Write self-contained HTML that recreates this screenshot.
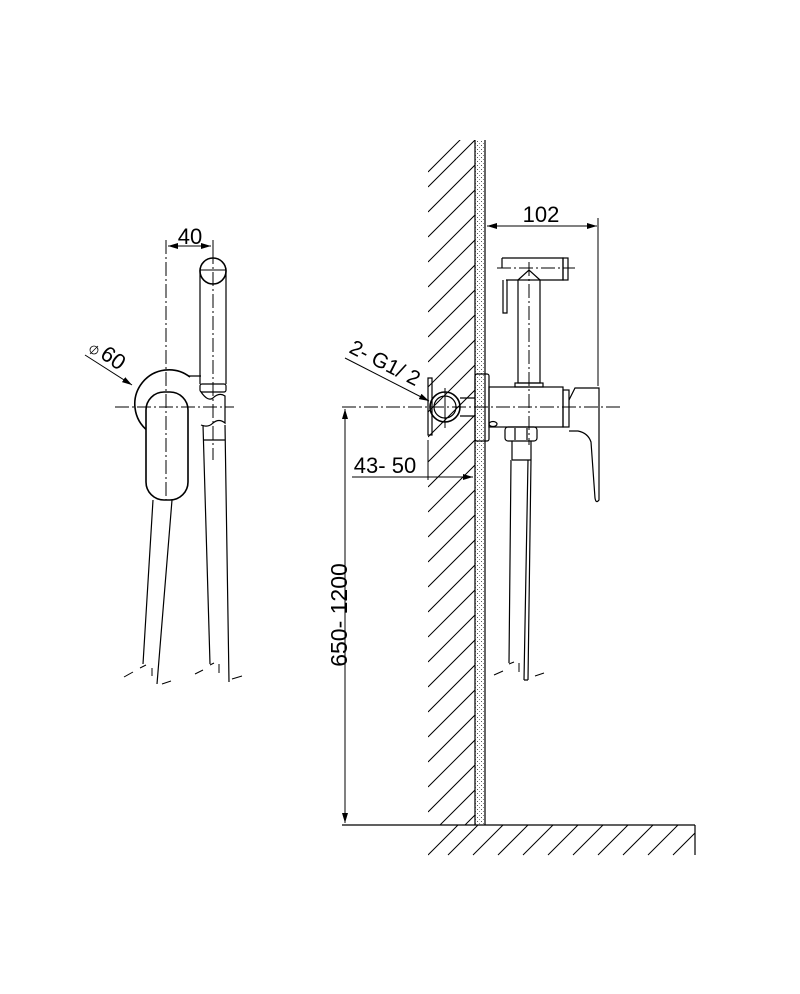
<!DOCTYPE html>
<html><head><meta charset="utf-8"><style>body{margin:0;background:#fff}svg{display:block}</style></head><body>
<svg width="800" height="994" viewBox="0 0 800 994" xmlns="http://www.w3.org/2000/svg" font-family="Liberation Sans, sans-serif">
<defs>
<marker id="a" viewBox="0 0 10 6" refX="10" refY="3" markerWidth="10" markerHeight="6" orient="auto-start-reverse" markerUnits="userSpaceOnUse"><path d="M0,0L10,3L0,6z" fill="#000"/></marker>
<pattern id="dots" width="4" height="4" patternUnits="userSpaceOnUse"><rect x="1" y="1" width="1" height="1" fill="#555"/><rect x="3" y="3" width="1" height="1" fill="#888"/></pattern>
<clipPath id="wc"><rect x="428" y="140" width="47" height="685"/></clipPath>
<clipPath id="fc"><rect x="428" y="825" width="267" height="32"/></clipPath>
</defs>
<g stroke="#000" fill="none" stroke-width="1.2">
<g clip-path="url(#wc)" stroke-width="1">
<path d="M428,187L475,140M428,212L475,165M428,237L475,190M428,262L475,215M428,287L475,240M428,312L475,265M428,337L475,290M428,362L475,315M428,387L475,340M428,412L475,365M428,437L475,390M428,462L475,415M428,487L475,440M428,512L475,465M428,537L475,490M428,562L475,515M428,587L475,540M428,612L475,565M428,637L475,590M428,662L475,615M428,687L475,640M428,712L475,665M428,737L475,690M428,762L475,715M428,787L475,740M428,812L475,765M428,837L475,790M428,862L475,815M428,172L475,125"/>
</g>
<g clip-path="url(#fc)" stroke-width="1">
<path d="M428,855L458,825M448,855L478,825M473,855L503,825M498,855L528,825M523,855L553,825M548,855L578,825M573,855L603,825M598,855L628,825M623,855L653,825M648,855L678,825M673,855L703,825"/>
</g>
<rect x="475" y="140" width="10" height="685" fill="url(#dots)" stroke="none"/>
<line x1="475" y1="140" x2="475" y2="825"/>
<line x1="485" y1="140" x2="485" y2="825"/>
<line x1="342" y1="825" x2="695" y2="825"/>
<line x1="695" y1="825" x2="695" y2="855"/>
<line x1="342" y1="407" x2="620" y2="407" stroke-dasharray="14,3,2,3" stroke-width="1"/>
<line x1="345" y1="409" x2="345" y2="823" marker-start="url(#a)" marker-end="url(#a)" stroke-width="1"/>
<text x="0" y="0" transform="translate(347,615) rotate(-90)" font-size="23" fill="#000" stroke="none" text-anchor="middle">650- 1200</text>
<line x1="487" y1="226" x2="597" y2="226" marker-start="url(#a)" marker-end="url(#a)" stroke-width="1"/>
<line x1="598" y1="218" x2="598" y2="386" stroke-width="1"/>
<text x="541" y="222" font-size="22" fill="#000" stroke="none" text-anchor="middle">102</text>
<line x1="352" y1="477" x2="473" y2="477" marker-end="url(#a)" stroke-width="1"/>
<line x1="428" y1="440" x2="428" y2="480" stroke-width="1"/>
<text x="385" y="473" font-size="22" fill="#000" stroke="none" text-anchor="middle">43- 50</text>
<line x1="345" y1="358" x2="429" y2="401" marker-end="url(#a)" stroke-width="1"/>
<text x="0" y="0" transform="translate(348,352) rotate(27)" font-size="21" fill="#000" stroke="none">2- G1/ 2</text>
<rect x="428" y="378" width="4" height="57"/>
<circle cx="445" cy="407" r="15" stroke-width="1.6"/>
<circle cx="445" cy="407" r="11"/>
<line x1="445" y1="388" x2="445" y2="428" stroke-width="1"/>
<path d="M460,398H475M460,416H475"/>
<rect x="475" y="374" width="14" height="67" rx="2"/>
<rect x="489" y="387" width="74" height="40"/>
<rect x="563" y="390" width="6" height="37"/>
<path d="M569,400L575,388H599V500Q596,504 595,498L591,442Q588,433 578,431H569"/>
<ellipse cx="493" cy="424" rx="4" ry="2.5"/>
<rect x="505" y="427" width="32" height="14" rx="3"/>
<path d="M515,428V440M527,428V440"/>
<path d="M512,441V460M531,441V460M512,460H531"/>
<path d="M511,460L509,663M528,460L524,680M531,460L528,680M524,680H528"/>
<path d="M494,675L503,671M509,664L514,662M519,663V672M535,676L544,673" stroke-width="1"/>
<rect x="518" y="280" width="22" height="103"/>
<rect x="515" y="383" width="28" height="4"/>
<path d="M502,258H563V280H540L529,270L518,280H506"/>
<rect x="563" y="258" width="5" height="22"/>
<path d="M502,258V268M503,280V313H507V280"/>
<line x1="497" y1="268" x2="575" y2="268" stroke-dasharray="14,3,2,3" stroke-width="1"/>
<line x1="529" y1="262" x2="529" y2="445" stroke-dasharray="14,3,2,3" stroke-width="1"/>
<!-- LEFT FIGURE -->
<path d="M148,431A33,33 0 1,1 190,377" stroke-width="1.6"/>
<path d="M188,376H201M188,426L181,431"/>
<rect x="146" y="392" width="42" height="108" rx="18" stroke-width="1.6" fill="#fff"/>
<line x1="166" y1="240" x2="166" y2="500" stroke-dasharray="14,3,2,3" stroke-width="1"/>
<line x1="115" y1="407" x2="234" y2="407" stroke-dasharray="14,3,2,3" stroke-width="1"/>
<line x1="213" y1="250" x2="213" y2="460" stroke-dasharray="14,3,2,3" stroke-width="1"/>
<line x1="168" y1="246" x2="211" y2="246" marker-start="url(#a)" marker-end="url(#a)" stroke-width="1"/>
<line x1="213" y1="240" x2="213" y2="262" stroke-width="1"/>
<text x="190" y="244" font-size="22" fill="#000" stroke="none" text-anchor="middle">40</text>
<line x1="85" y1="355" x2="132" y2="385" marker-end="url(#a)" stroke-width="1"/>
<text x="0" y="0" transform="translate(99,357) rotate(35)" font-size="22" fill="#000" stroke="none">60</text>
<circle cx="94" cy="350" r="4" stroke-width="0.8"/>
<line x1="90" y1="354" x2="98" y2="346" stroke-width="0.8"/>
<path d="M200,270V384M226,270V384"/>
<circle cx="213" cy="271" r="13" stroke-width="1.6"/>
<line x1="200" y1="270" x2="226" y2="270" stroke-width="1"/>
<rect x="200" y="384" width="26" height="8" rx="2"/>
<path d="M201,392Q208,402 213,398Q219,392 225,396V423Q219,418 213,423Q208,428 201,425"/>
<path d="M203,425L210,664M225,425L229,682"/>
<path d="M203,440H225"/>
<path d="M153,500L143,664M172,500L157,684"/>
<path d="M124,677L133,672M140,668L146,665M152,668V676M162,684L171,681M195,674L203,670M210,665L214,663M219,664V673M232,679L242,676" stroke-width="1"/>
</g>
</svg>
</body></html>
